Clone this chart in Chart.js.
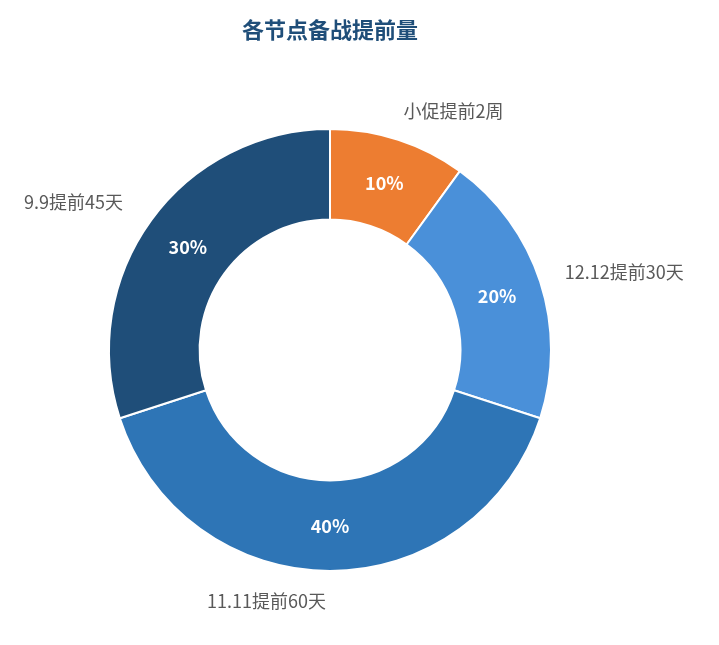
<!DOCTYPE html>
<html>
<head>
<meta charset="utf-8">
<script src="https://cdn.jsdelivr.net/npm/chart.js@4"></script>
<style>
  body { margin: 0; background: #fff; }
  #wrap { width: 719px; height: 645px; }
</style>
</head>
<body>
<div id="wrap"><canvas id="myChart"></canvas></div>
<script>
const labels = ['小促提前2周', '12.12提前30天', '11.11提前60天', '9.9提前45天'];
const shares = [10, 20, 40, 30];
const colors = ['#ED7D31', '#4A90D9', '#2E75B6', '#1F4E79'];
const chartTitle = '各节点备战提前量';

const FONT = '"Noto Sans CJK SC", "Noto Sans", sans-serif';

// draws title, outer labels and the white percentages
const labelPlugin = {
  id: 'labelPlugin',
  afterDraw(chart) {
    const c = chart.ctx;
    c.save();
    c.fillStyle = '#1F4E79';
    c.font = 'bold 22px ' + FONT;
    c.textAlign = 'center';
    c.textBaseline = 'middle';
    c.fillText(chartTitle, 330, 30);

    chart.getDatasetMeta(0).data.forEach((arc, i) => {
      const mid = (arc.startAngle + arc.endAngle) / 2;
      const rIn = (arc.innerRadius + arc.outerRadius) / 2;
      c.fillStyle = '#fff';
      c.font = 'bold 18px ' + FONT;
      c.textAlign = 'center';
      c.fillText(shares[i] + '%', arc.x + rIn * Math.cos(mid), arc.y + rIn * Math.sin(mid));

      const rOut = arc.outerRadius + 30;
      const x = arc.x + rOut * Math.cos(mid);
      const y = arc.y + rOut * Math.sin(mid);
      c.fillStyle = '#595959';
      c.font = '18px ' + FONT;
      c.textAlign = x > arc.x + 1 ? 'left' : 'right';
      c.fillText(labels[i], x - 4, y);
    });
    c.restore();
  }
};

new Chart(document.getElementById('myChart'), {
  type: 'doughnut',
  data: {
    labels: labels,
    datasets: [{
      data: shares,
      backgroundColor: colors,
      borderColor: '#fff',
      borderWidth: 2
    }]
  },
  options: {
    responsive: true,
    maintainAspectRatio: false,
    animation: false,
    cutout: '59%',
    layout: { padding: { left: 108, right: 167, top: 128, bottom: 73 } },
    plugins: { legend: { display: false }, tooltip: { enabled: false } }
  },
  plugins: [labelPlugin]
});
</script>
</body>
</html>
